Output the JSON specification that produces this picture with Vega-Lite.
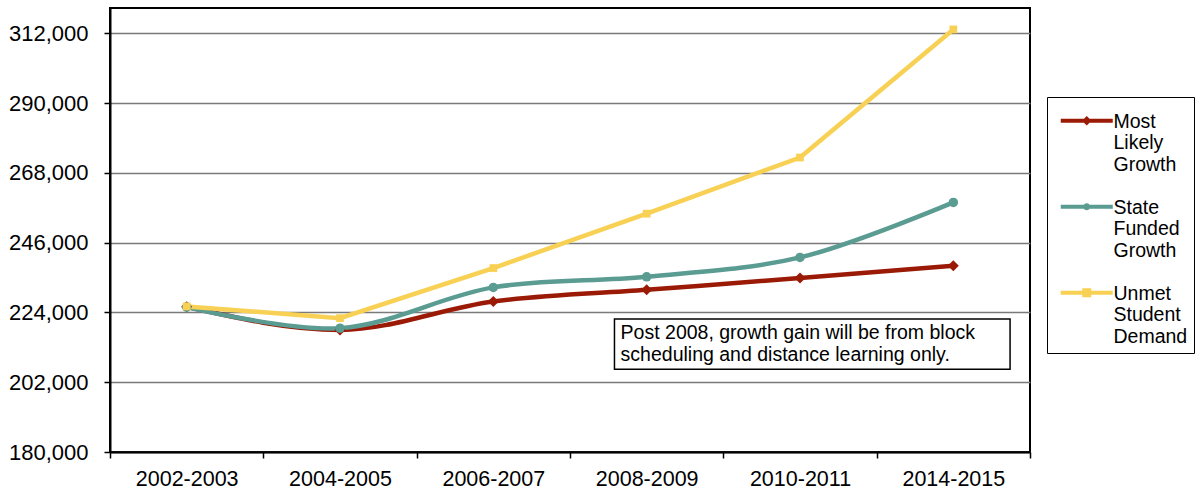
{
  "$schema": "https://vega.github.io/schema/vega-lite/v6.json",
  "width": 920,
  "height": 444,
  "autosize": {"type": "none"},
  "padding": {"left": 110, "top": 8, "right": 169, "bottom": 46},
  "background": "white",
  "config": {
    "font": "Liberation Sans",
    "view": {"stroke": "black", "strokeWidth": 2},
    "axis": {"labelColor": "black", "labelFont": "Liberation Sans"}
  },
  "data": {
    "values": [
      {"period": "2002-2003", "series": "Most Likely Growth", "value": 225800},
      {"period": "2004-2005", "series": "Most Likely Growth", "value": 218500},
      {"period": "2006-2007", "series": "Most Likely Growth", "value": 227450},
      {"period": "2008-2009", "series": "Most Likely Growth", "value": 231150},
      {"period": "2010-2011", "series": "Most Likely Growth", "value": 234850},
      {"period": "2014-2015", "series": "Most Likely Growth", "value": 238700},
      {"period": "2002-2003", "series": "State Funded Growth", "value": 225700},
      {"period": "2004-2005", "series": "State Funded Growth", "value": 219050},
      {"period": "2006-2007", "series": "State Funded Growth", "value": 231900},
      {"period": "2008-2009", "series": "State Funded Growth", "value": 235250},
      {"period": "2010-2011", "series": "State Funded Growth", "value": 241350},
      {"period": "2014-2015", "series": "State Funded Growth", "value": 258700},
      {"period": "2002-2003", "series": "Unmet Student Demand", "value": 225900},
      {"period": "2004-2005", "series": "Unmet Student Demand", "value": 222200},
      {"period": "2006-2007", "series": "Unmet Student Demand", "value": 238000},
      {"period": "2008-2009", "series": "Unmet Student Demand", "value": 255150},
      {"period": "2010-2011", "series": "Unmet Student Demand", "value": 272850},
      {"period": "2014-2015", "series": "Unmet Student Demand", "value": 313250}
    ]
  },
  "encoding": {
    "x": {
      "field": "period",
      "type": "ordinal",
      "title": null,
      "scale": {"type": "band", "paddingInner": 0, "paddingOuter": 0},
      "axis": {
        "labelAngle": 0,
        "labelFontSize": 21.5,
        "labelPadding": 10,
        "tickBand": "extent",
        "tickSize": 6,
        "tickColor": "black",
        "tickWidth": 1.5,
        "domainColor": "black",
        "domainWidth": 2,
        "grid": false
      }
    },
    "y": {
      "field": "value",
      "type": "quantitative",
      "title": null,
      "scale": {"domain": [180000, 320000], "nice": false, "zero": false},
      "axis": {
        "values": [180000, 202000, 224000, 246000, 268000, 290000, 312000],
        "format": ",d",
        "labelFontSize": 22,
        "labelPadding": 16,
        "tickSize": 6,
        "tickColor": "black",
        "tickWidth": 1.5,
        "domainColor": "black",
        "domainWidth": 2,
        "grid": true,
        "gridColor": "#7a7a7a",
        "gridWidth": 1.5
      }
    }
  },
  "layer": [
    {
      "transform": [{"filter": "datum.series === 'Most Likely Growth'"}],
      "mark": {"type": "line", "interpolate": "monotone", "strokeWidth": 4.5},
      "encoding": {
        "color": {
          "field": "series",
          "type": "nominal",
          "scale": {
            "domain": ["Most Likely Growth", "State Funded Growth", "Unmet Student Demand"],
            "range": ["#9a1a06", "#5a9b92", "#f8d154"]
          },
          "legend": null
        }
      }
    },
    {
      "transform": [{"filter": "datum.series === 'State Funded Growth'"}],
      "mark": {"type": "line", "interpolate": "catmull-rom", "strokeWidth": 4.5},
      "encoding": {
        "color": {
          "field": "series",
          "type": "nominal",
          "scale": {
            "domain": ["Most Likely Growth", "State Funded Growth", "Unmet Student Demand"],
            "range": ["#9a1a06", "#5a9b92", "#f8d154"]
          },
          "legend": null
        }
      }
    },
    {
      "transform": [{"filter": "datum.series === 'Unmet Student Demand'"}],
      "mark": {"type": "line", "strokeWidth": 4.5},
      "encoding": {
        "color": {
          "field": "series",
          "type": "nominal",
          "scale": {
            "domain": ["Most Likely Growth", "State Funded Growth", "Unmet Student Demand"],
            "range": ["#9a1a06", "#5a9b92", "#f8d154"]
          },
          "legend": null
        }
      }
    },
    {
      "mark": {"type": "point", "filled": true, "opacity": 1},
      "encoding": {
        "color": {
          "field": "series",
          "type": "nominal",
          "scale": {
            "domain": ["Most Likely Growth", "State Funded Growth", "Unmet Student Demand"],
            "range": ["#9a1a06", "#5a9b92", "#f8d154"]
          },
          "legend": null
        },
        "shape": {
          "field": "series",
          "type": "nominal",
          "scale": {
            "domain": ["Most Likely Growth", "State Funded Growth", "Unmet Student Demand"],
            "range": ["diamond", "circle", "square"]
          },
          "legend": null
        },
        "size": {
          "field": "series",
          "type": "nominal",
          "scale": {
            "domain": ["Most Likely Growth", "State Funded Growth", "Unmet Student Demand"],
            "range": [120, 60, 110]
          },
          "legend": null
        }
      }
    },
    {
      "mark": {"type": "point", "filled": true, "opacity": 0, "size": 100},
      "encoding": {
        "color": {
          "field": "series",
          "type": "nominal",
          "scale": {
            "domain": ["Most Likely Growth", "State Funded Growth", "Unmet Student Demand"],
            "range": ["#9a1a06", "#5a9b92", "#f8d154"]
          },
          "legend": {
            "title": null,
            "orient": "none",
            "legendX": 937,
            "legendY": 89,
            "strokeColor": "black",
            "padding": 6,
            "symbolSize": 100,
            "symbolOpacity": 1,
            "symbolStrokeWidth": 0,
            "labelFontSize": 19.5,
            "labelColor": "black",
            "labelOffset": 41,
            "labelBaseline": "top",
            "labelExpr": "split(datum.label, ' ')",
            "rowPadding": 14
          }
        },
        "shape": {
          "field": "series",
          "type": "nominal",
          "scale": {
            "domain": ["Most Likely Growth", "State Funded Growth", "Unmet Student Demand"],
            "range": [
              "M-0.4,1.2H10V2H-0.4Z M4.8,0.65L5.75,1.6L4.8,2.55L3.85,1.6Z",
              "M-0.4,1.2H10V2H-0.4Z M4.1,1.6A0.7,0.7,0,1,1,5.5,1.6A0.7,0.7,0,1,1,4.1,1.6Z",
              "M-0.4,1.2H10V2H-0.4Z M3.9,0.7H5.7V2.5H3.9Z"
            ]
          },
          "legend": {
            "title": null,
            "orient": "none",
            "legendX": 937,
            "legendY": 89,
            "strokeColor": "black",
            "padding": 6,
            "symbolSize": 100,
            "symbolOpacity": 1,
            "symbolStrokeWidth": 0,
            "labelFontSize": 19.5,
            "labelColor": "black",
            "labelOffset": 41,
            "labelBaseline": "top",
            "labelExpr": "split(datum.label, ' ')",
            "rowPadding": 14
          }
        }
      }
    },
    {
      "transform": [{"filter": "datum.series === 'Most Likely Growth' && datum.period === '2002-2003'"}],
      "mark": {"type": "rect", "fill": "white", "stroke": "black", "strokeWidth": 1.5},
      "encoding": {
        "x": {"datum": "2008-2009", "bandPosition": 0.29},
        "x2": {"datum": "2014-2015", "bandPosition": 0.87},
        "y": {"datum": 221900},
        "y2": {"datum": 206100}
      }
    },
    {
      "transform": [{"filter": "datum.series === 'Most Likely Growth' && datum.period === '2002-2003'"}],
      "mark": {
        "type": "text",
        "align": "left",
        "baseline": "alphabetic",
        "fontSize": 19.5,
        "lineHeight": 22.3,
        "fill": "black"
      },
      "encoding": {
        "x": {"datum": "2008-2009", "bandPosition": 0.33},
        "y": {"datum": 215590},
        "text": {"value": ["Post 2008, growth gain will be from block", "scheduling and distance learning only."]}
      }
    }
  ],
  "resolve": {"scale": {"color": "independent", "shape": "independent", "size": "independent"}}
}
